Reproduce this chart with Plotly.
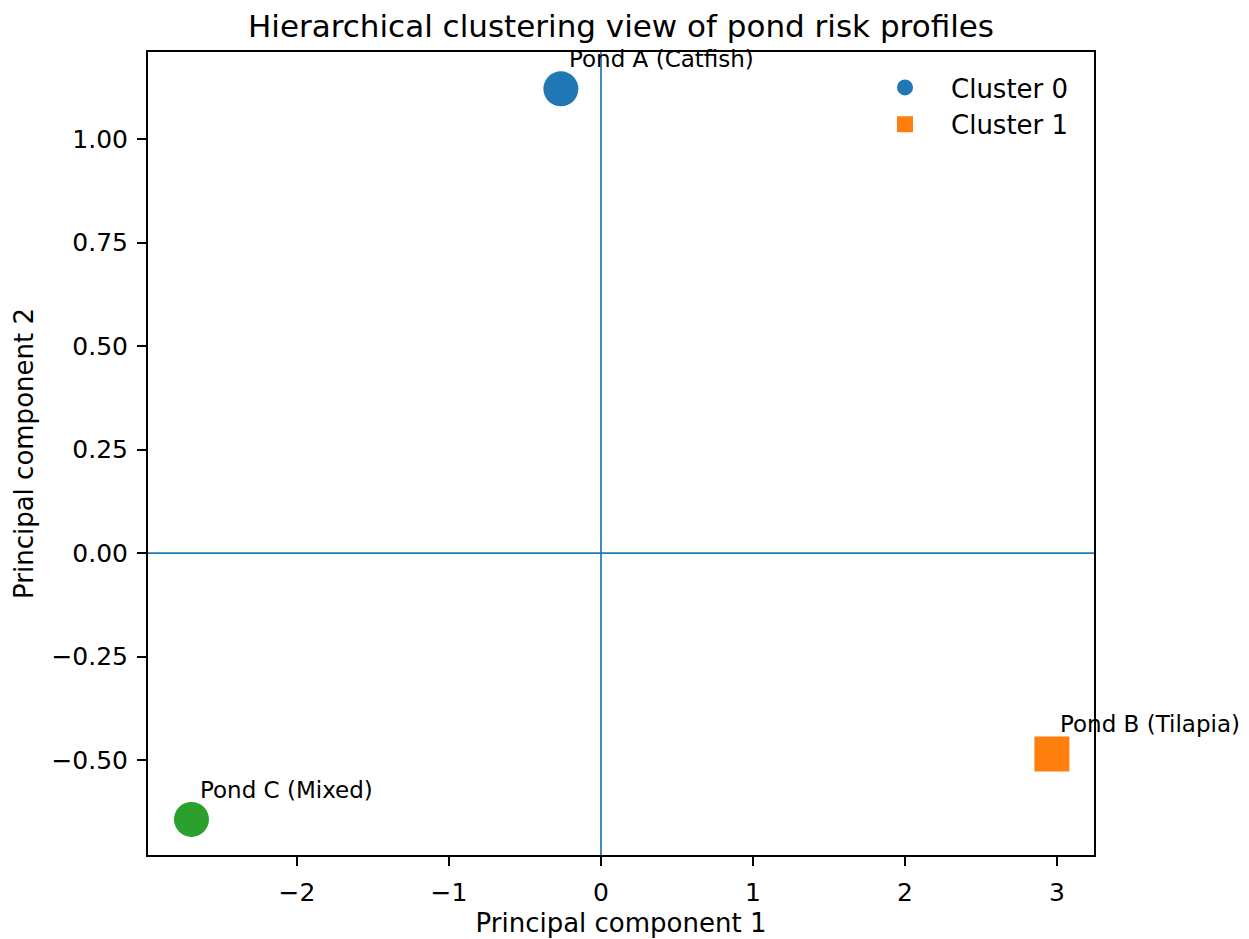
import plotly.graph_objects as go

# ---- data ----
pond_names = ["Pond A (Catfish)", "Pond B (Tilapia)", "Pond C (Mixed)"]
pc1 = [-0.264, 2.966, -2.694]
pc2 = [1.121, -0.485, -0.643]
cluster_ids = [0, 1, 2]
legend_clusters = [0, 1]

# ---- style ----
colors = ["#1f77b4", "#ff7f0e", "#2ca02c"]
symbols = ["circle", "square", "circle"]
FONT = "DejaVu Sans"

fig = go.Figure()
for c in sorted(set(cluster_ids)):
    idx = [i for i, k in enumerate(cluster_ids) if k == c]
    fig.add_trace(go.Scatter(
        x=[pc1[i] for i in idx],
        y=[pc2[i] for i in idx],
        mode="markers",
        name=f"Cluster {c}",
        showlegend=c in legend_clusters,
        marker=dict(color=colors[c], symbol=symbols[c], size=35, line=dict(width=0)),
        hoverinfo="skip",
    ))

for name, x, y in zip(pond_names, pc1, pc2):
    fig.add_annotation(
        x=x + 0.05, y=y + 0.05, xref="x", yref="y",
        text=name, showarrow=False, xanchor="left", yanchor="bottom",
        yshift=-6, xshift=-1, font=dict(family=FONT, size=23, color="black"),
    )

# zero reference lines
fig.add_shape(type="line", xref="paper", yref="y", x0=0, x1=1, y0=0, y1=0,
              line=dict(color="#1f77b4", width=1.7), layer="below")
fig.add_shape(type="line", xref="x", yref="paper", x0=0, x1=0, y0=0, y1=1,
              line=dict(color="#1f77b4", width=1.7), layer="below")

axis_common = dict(
    showline=True, mirror=True, linecolor="black", linewidth=2,
    ticks="outside", ticklen=9, tickwidth=2, tickcolor="black",
    showgrid=False, zeroline=False, automargin=False,
    tickfont=dict(family=FONT, size=25, color="black"),
)

fig.update_layout(
    width=1249, height=939,
    margin=dict(l=148, r=155, t=52, b=84),
    paper_bgcolor="white", plot_bgcolor="white",
    title=dict(text="Hierarchical clustering view of pond risk profiles",
               x=0.5, xref="paper", y=1 - 26 / 939, yref="container", yanchor="middle",
               font=dict(family=FONT, size=31, color="black")),
    xaxis=dict(range=[-2.98, 3.243], dtick=1, tick0=0, ticklabelstandoff=5,
               title=dict(text="Principal component 1", standoff=8,
                          font=dict(family=FONT, size=26, color="black")),
               **axis_common),
    yaxis=dict(range=[-0.729, 1.21], dtick=0.25, tick0=0, tickformat=".2f",
               ticklabelstandoff=4,
               title=dict(text="Principal component 2", standoff=10,
                          font=dict(family=FONT, size=26, color="black")),
               **axis_common),
    legend=dict(x=0.7516, y=0.985, xanchor="left", yanchor="top",
                bgcolor="rgba(255,255,255,0)", borderwidth=0,
                font=dict(family=FONT, size=26, color="black"),
                itemsizing="trace", itemwidth=82, tracegroupgap=0),
    showlegend=True,
)

fig.write_html(
    "out.html",
    config={"displayModeBar": False},
    post_script="document.body.style.margin='0';document.body.style.overflow='hidden';",
)
